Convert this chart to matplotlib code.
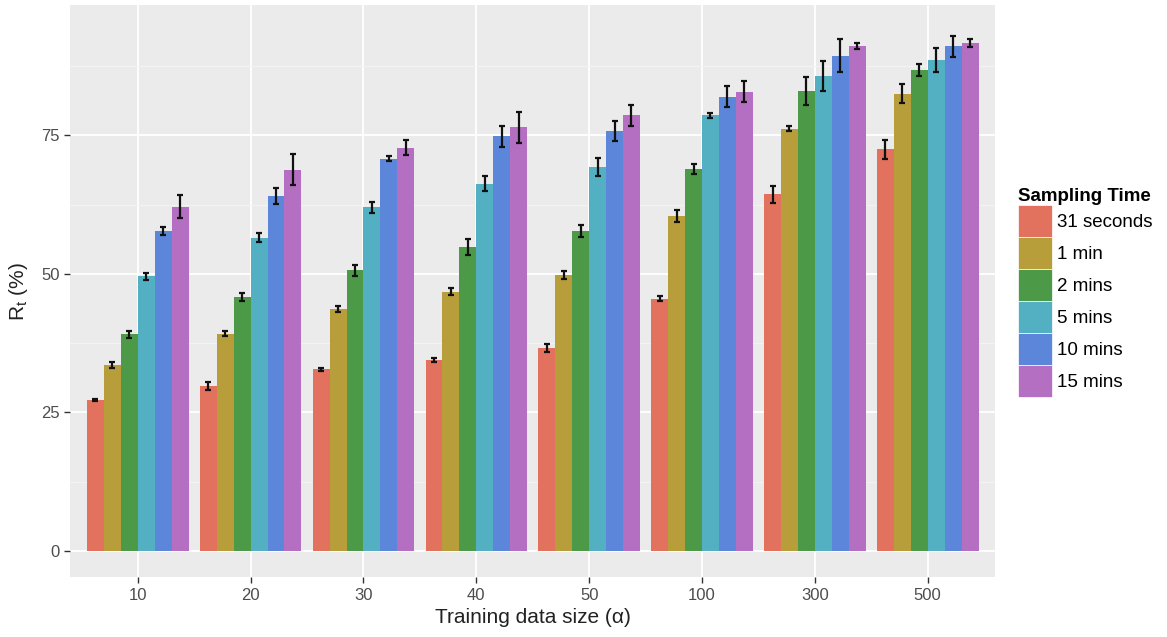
import numpy as np
import matplotlib as mpl
mpl.use('Agg')
import matplotlib.pyplot as plt
from matplotlib.patches import Patch

plt.rcParams['font.family'] = ['Liberation Sans', 'DejaVu Sans']

sizes = ['10', '20', '30', '40', '50', '100', '300', '500']
sampling = ['31 seconds', '1 min', '2 mins', '5 mins', '10 mins', '15 mins']
colors = ['#E2715E', '#B89E3A', '#4C9A48', '#52B0C2', '#5B86DA', '#B46EC2']

# mean R_t (%) per sampling time, one value per training size
r_31s = [27.3, 29.8, 32.8, 34.4, 36.6, 45.5, 64.4, 72.5]
r_1m = [33.6, 39.2, 43.7, 46.8, 49.8, 60.4, 76.2, 82.5]
r_2m = [39.1, 45.8, 50.7, 54.9, 57.7, 68.9, 83.0, 86.8]
r_5m = [49.6, 56.5, 62.0, 66.3, 69.3, 78.6, 85.7, 88.6]
r_10m = [57.8, 64.1, 70.8, 74.8, 75.8, 82.0, 89.4, 91.1]
r_15m = [62.1, 68.8, 72.8, 76.5, 78.6, 82.9, 91.1, 91.7]

# error bar half-widths
e_31s = [0.2, 0.7, 0.3, 0.35, 0.7, 0.45, 1.55, 1.7]
e_1m = [0.5, 0.45, 0.5, 0.6, 0.8, 1.1, 0.45, 1.7]
e_2m = [0.6, 0.75, 1.0, 1.4, 1.1, 0.95, 2.45, 1.05]
e_5m = [0.65, 0.8, 1.05, 1.3, 1.7, 0.5, 2.7, 2.2]
e_10m = [0.7, 1.45, 0.45, 1.95, 1.85, 1.9, 2.9, 1.9]
e_15m = [2.1, 2.75, 1.3, 2.8, 1.95, 1.95, 0.6, 0.75]

means = [r_31s, r_1m, r_2m, r_5m, r_10m, r_15m]
errs = [e_31s, e_1m, e_2m, e_5m, e_10m, e_15m]

fig = plt.figure(figsize=(11.67, 6.37), dpi=100)
ax = fig.add_axes([0.06, 0.094, 0.793, 0.898])
ax.set_facecolor('#EBEBEB')

x = np.arange(1, len(sizes) + 1)
w = 0.9 / len(sampling)
for i in range(len(sampling)):
    pos = x - 0.45 + w * (i + 0.5)
    ax.bar(pos, means[i], width=w, color=colors[i], linewidth=0, zorder=2)
    ax.errorbar(pos, means[i], yerr=errs[i], fmt='none', ecolor='#111111',
                elinewidth=1.6, capsize=2.4, capthick=1.6, zorder=3)

ax.set_xlim(0.4, 8.6)
ax.set_ylim(-4.7, 98.5)
ax.set_xticks(x)
ax.set_xticklabels(sizes)
ax.set_yticks([0, 25, 50, 75])
ax.set_yticks([12.5, 37.5, 62.5, 87.5], minor=True)
ax.grid(which='major', color='white', linewidth=1.3, zorder=0)
ax.grid(which='minor', axis='y', color='#F4F4F4', linewidth=0.7, zorder=0)
ax.set_axisbelow(True)
for s in ax.spines.values():
    s.set_visible(False)
ax.tick_params(axis='both', which='major', length=4, width=1, color='#333333',
               labelsize=12, labelcolor='#4D4D4D')
ax.tick_params(axis='both', which='minor', length=0)

ax.set_xlabel('Training data size (\u03b1)', fontsize=15, color='#222222', labelpad=4)
ax.set_ylabel('R$_\\mathregular{t}$ (%)', fontsize=15, color='#222222', labelpad=8)

handles = [Patch(facecolor=c, edgecolor='white', linewidth=0.5) for c in colors]
leg = fig.legend(handles, sampling, loc='upper left', bbox_to_anchor=(0.872, 0.705),
                 frameon=False, fontsize=13.5, title='Sampling Time',
                 title_fontproperties={'weight': 'bold', 'size': 13.5},
                 handlelength=1.85, handleheight=2.25, labelspacing=0.0,
                 handletextpad=0.25, borderaxespad=0, borderpad=0)
leg._legend_box.align = 'left'

fig.savefig('out.png', dpi=100)
